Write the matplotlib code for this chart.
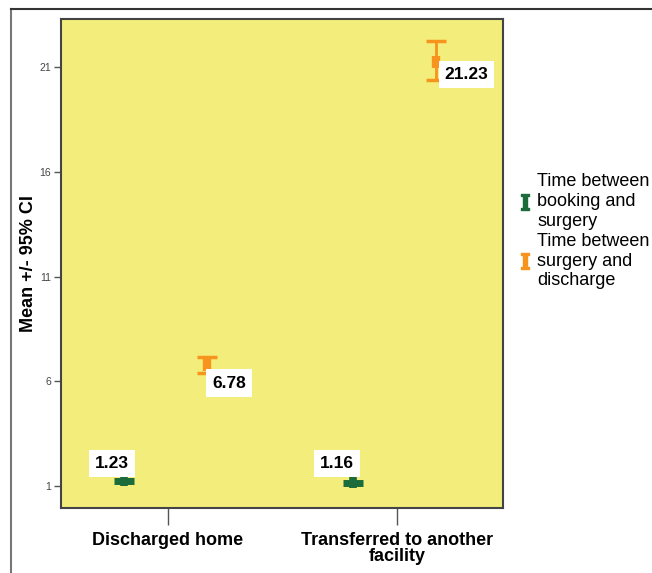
import matplotlib
matplotlib.use("Agg")
import matplotlib.pyplot as plt
from matplotlib.lines import Line2D
import numpy as np

plt.rcParams['font.family'] = ['Liberation Sans', 'DejaVu Sans']
plt.rcParams['mathtext.fontset'] = 'dejavuserif'

categories = ['Discharged home', 'Transferred to another\nfacility']
series = ['Time between\nbooking and\nsurgery', 'Time between\nsurgery and\ndischarge']
booking_mean = [1.23, 1.16]
booking_lo = [1.00, 0.92]
booking_hi = [1.52, 1.48]
discharge_mean = [6.78, 21.23]
discharge_lo = [6.40, 20.38]
discharge_hi = [7.17, 22.24]

green = '#1c6b3a'
orange = '#f7941d'
yellow = '#f3ee7b'

fig = plt.figure(figsize=(6.52, 5.73), dpi=100)
ax = fig.add_axes([61/652, 1-508/573, (503-61)/652, (508-19)/573])
ax.set_facecolor(yellow)

# outer frame of the figure
fig.add_artist(Line2D([11/652, 11/652], [0, 1-9/573], color='#777777', lw=1.5))
fig.add_artist(Line2D([11/652, 1], [1-9/573, 1-9/573], color='#333333', lw=1.5))

x = np.arange(len(categories))
off = [-0.19, 0.17]

# booking -> surgery: CI is tiny, drawn as a plus
bm = np.array(booking_mean)
ax.errorbar(x + off[0], bm, yerr=[bm - np.array(booking_lo), np.array(booking_hi) - bm],
            fmt='none', ecolor=green, elinewidth=5.5, capsize=0, zorder=3)
ax.plot(x + off[0], bm, ls='none', marker='_', ms=15, mew=5, color=green, zorder=4)

# surgery -> discharge
dm = np.array(discharge_mean)
ax.errorbar(x + off[1], dm, yerr=[dm - np.array(discharge_lo), np.array(discharge_hi) - dm],
            fmt='none', ecolor=orange, elinewidth=2, capsize=7, capthick=2.5, zorder=3)
ax.plot(x + off[1], dm, ls='none', marker='|', ms=9, mew=6, color=orange, zorder=4)

lab_offsets = [[(-9, 13), (-12, 14)], [(16, -13), (22, -9)]]
for si, (xs, vals) in enumerate([(x + off[0], booking_mean), (x + off[1], discharge_mean)]):
    for i, v in enumerate(vals):
        ax.annotate(f'{v:.2f}', (xs[i], v), xytext=lab_offsets[si][i], textcoords='offset points',
                    ha='center', va='center', fontsize=12.5, fontweight='bold', zorder=6,
                    bbox=dict(boxstyle='square,pad=0.35', fc='white', ec='none'))

ax.set_xlim(-0.467, 1.463)
ax.set_ylim(-0.05, 23.3)
ax.set_yticks([1, 6, 11, 16, 21])
ax.set_yticklabels(['1', '6', '11', '16', '21'], fontsize=7.5, color='#444444')
ax.set_xticks(x)
ax.set_xticklabels(categories, fontsize=13, fontweight='bold', linespacing=0.95)
ax.tick_params(axis='y', length=5, width=1, color='#555555', pad=2)
ax.tick_params(axis='x', length=12, width=1, color='#555555', pad=5)
for s in ax.spines.values():
    s.set_color('#444444')
    s.set_linewidth(1.5)

ax.set_ylabel('Mean +/- 95% CI', fontsize=13, fontweight='bold')
ax.yaxis.set_label_coords(-24/442, 0.5)

handles = [Line2D([], [], ls='none', marker=r'$\mathbf{I}$', ms=11, color=green),
           Line2D([], [], ls='none', marker=r'$\mathbf{I}$', ms=11, color=orange)]
leg = fig.legend(handles, series, loc='upper left', bbox_to_anchor=(512/652, 1-166/573),
                 frameon=False, fontsize=13, handlelength=0.6, handletextpad=0.4,
                 labelspacing=0.15, borderaxespad=0)
for t in leg.get_texts():
    t.set_linespacing(1.22)

fig.savefig('out.png', dpi=100)
